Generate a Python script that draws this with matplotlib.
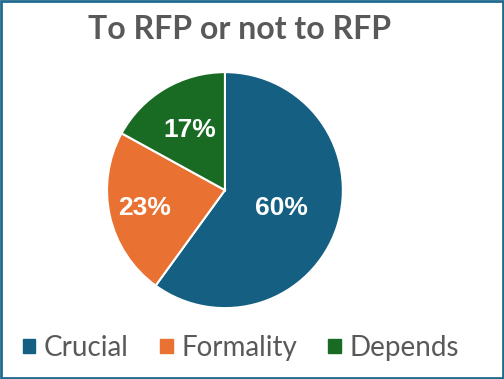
import numpy as np
import matplotlib
matplotlib.use('Agg')
import matplotlib.pyplot as plt
from matplotlib.patches import Rectangle

categories = ['Crucial', 'Formality', 'Depends']
shares = [60, 23, 17]
pct_labels = ['60%', '23%', '17%']
colors = ['#156082', '#E97132', '#196B24']
label_dist = [0.50, 0.70, 0.59]

fig = plt.figure(figsize=(5.04, 3.79), dpi=100)
ax = fig.add_axes([0.2123, 0.187, 0.468, 0.6227])

wedges, _ = ax.pie(shares, colors=colors, startangle=90, counterclock=False,
                   wedgeprops=dict(edgecolor='white', linewidth=1.5))
ax.set_xlim(-1.0, 1.0)
ax.set_ylim(-1.0, 1.0)
ax.set_aspect('auto')

for w, lab, d in zip(wedges, pct_labels, label_dist):
    ang = np.deg2rad((w.theta1 + w.theta2) / 2)
    ax.text(d * np.cos(ang), d * np.sin(ang), lab, ha='center', va='center',
            color='white', fontsize=19, fontweight='bold',
            family='Liberation Sans')

fig.text(0.475, 0.921, 'To RFP or not to RFP', ha='center', va='center',
         fontsize=23, fontweight='bold', color='#595959', family='Lato')

handles = [Rectangle((0, 0), 1, 1, color=c) for c in colors]
leg = fig.legend(handles, categories, loc='center', bbox_to_anchor=(0.478, 0.082),
                 ncol=3, frameon=False, handlelength=0.45, handleheight=0.45,
                 handletextpad=0.32, columnspacing=1.12, borderpad=0,
                 prop=dict(family='Lato', size=20))
for t in leg.get_texts():
    t.set_color('#595959')

fig.add_artist(Rectangle((0.002, 0.003), 0.996, 0.994, transform=fig.transFigure,
                         fill=False, edgecolor='#1F6A8E', linewidth=2))

fig.savefig('out.png', dpi=100)
